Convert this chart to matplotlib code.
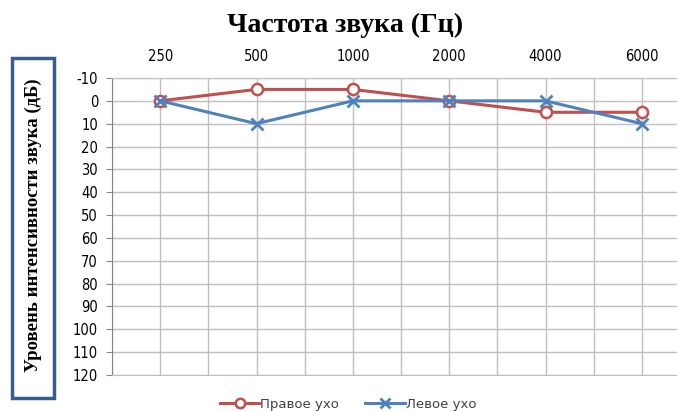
import matplotlib
matplotlib.use("Agg")
import matplotlib.pyplot as plt
from matplotlib.patches import Rectangle

plt.rcParams["axes.unicode_minus"] = False

freqs = ["250", "500", "1000", "2000", "4000", "6000"]
right_ear = [0, -5, -5, 0, 5, 5]
left_ear = [0, 10, 0, 0, 0, 10]
y_ticks = list(range(-10, 121, 10))

fig = plt.figure(figsize=(6.77, 4.11), dpi=100)
W, H = 677, 411
x0, x1, yt, yb = 112, 690, 78, 375
ax = fig.add_axes([x0 / W, 1 - yb / H, (x1 - x0) / W, (yb - yt) / H])

xs = list(range(len(freqs)))
red = "#C0504D"
blue = "#4F81BD"
ax.plot(xs, right_ear, color=red, lw=2.2, marker="o", ms=8, mfc="white",
        mec=red, mew=1.8, label="Правое ухо", zorder=3)
ax.plot(xs, left_ear, color=blue, lw=2.2, marker="x", ms=9, mec=blue,
        mew=2.0, label="Левое ухо", zorder=3)

ax.set_xlim(-0.5, len(freqs) - 0.5)
ax.set_ylim(120, -10)
ax.set_yticks(y_ticks)
ax.set_xticks(xs)
ax.set_xticklabels(freqs)
ax.xaxis.tick_top()
ax.set_xticks([i - 0.5 for i in range(len(freqs) + 1)], minor=True)

ax.grid(True, which="major", color="#BFBFBF", lw=1.0)
ax.grid(True, which="minor", axis="x", color="#BFBFBF", lw=1.0)
for s in ax.spines.values():
    s.set_color("#BFBFBF")
ax.spines["left"].set_color("#868686")
ax.tick_params(axis="x", which="both", length=0, pad=10, labelsize=10.5)
ax.tick_params(axis="y", length=4, color="#868686", pad=6, labelsize=10.5)
for lab in ax.get_xticklabels() + ax.get_yticklabels():
    lab.set_color("#000000")
    lab.set_fontstretch("condensed")

fig.text(345 / W, 1 - 25 / H, "Частота звука (Гц)", ha="center", va="center",
         fontsize=20, fontweight="bold", family=["Liberation Serif", "DejaVu Serif"])

fig.patches.append(Rectangle((12 / W, 1 - 398 / H), 42 / W, 340 / H,
                             transform=fig.transFigure, fill=False,
                             edgecolor="#385D8A", lw=2.5))
fig.text(33 / W, 1 - 225 / H, "Уровень интенсивности звука (дБ)", rotation=90,
         ha="center", va="center", fontsize=13.5, fontweight="bold",
         family=["Liberation Serif", "DejaVu Serif"])

leg = fig.legend(loc="center", bbox_to_anchor=(348 / W, 1 - 404 / H), ncol=2,
                 frameon=False, fontsize=9.5, handlelength=3.0, columnspacing=2.0,
                 handletextpad=0.05, borderpad=0, markerscale=0.85)
for t in leg.get_texts():
    t.set_color("#404040")

fig.savefig("out.png", dpi=100)
